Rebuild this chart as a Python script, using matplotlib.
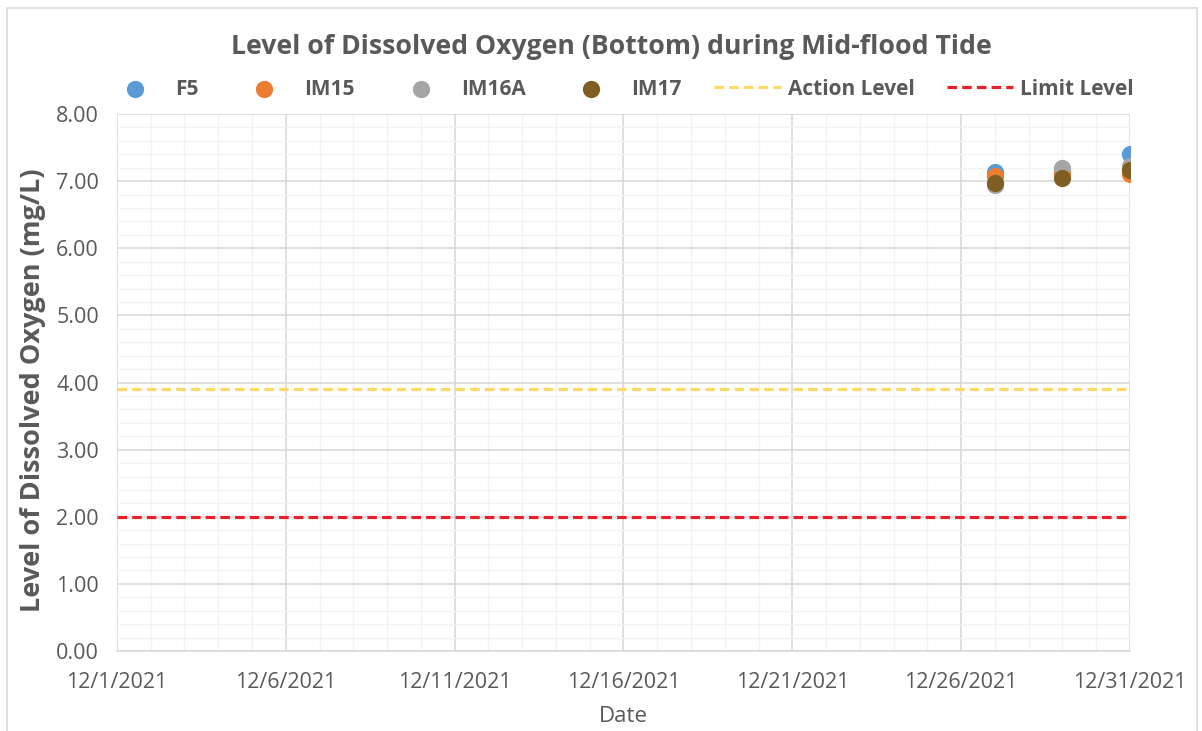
import datetime as dt
import matplotlib
matplotlib.use("Agg")
import matplotlib.pyplot as plt
import matplotlib.dates as mdates
from matplotlib.patches import Rectangle

# data
dates = [dt.date(2021, 12, 27), dt.date(2021, 12, 29), dt.date(2021, 12, 31)]
f5 = [7.13, 7.15, 7.41]
im15 = [7.07, 7.12, 7.11]
im16a = [6.94, 7.19, 7.23]
im17 = [6.98, 7.05, 7.17]
action_level = 3.9
limit_level = 2.0

x_start = dt.date(2021, 12, 1)
x_end = dt.date(2021, 12, 31)

grey = "#595959"
plt.rcParams["font.family"] = ["Open Sans", "DejaVu Sans"]

fig = plt.figure(figsize=(12.02, 7.31), dpi=100)
ax = fig.add_axes([0.0973, 0.1094, 0.8428, 0.7346])

ax.axhline(action_level, color="#FFD966", lw=2.3, ls=(0, (3, 1.6)), label="Action Level", zorder=2)
ax.axhline(limit_level, color="#E8202A", lw=2.3, ls=(0, (3, 1.6)), label="Limit Level", zorder=2)

ms = 130
ax.scatter(dates, f5, s=ms, color="#5B9BD5", label="F5", zorder=3)
ax.scatter(dates, im15, s=ms, color="#ED7D31", label="IM15", zorder=3)
ax.scatter(dates, im16a, s=ms, color="#A5A5A5", label="IM16A", zorder=3)
ax.scatter(dates, im17, s=ms, color="#7E5E22", label="IM17", zorder=3)

ax.set_xlim(x_start, x_end)
ax.set_ylim(0, 8)
ax.xaxis.set_major_locator(mdates.DayLocator(bymonthday=[1, 6, 11, 16, 21, 26, 31]))
ax.xaxis.set_minor_locator(mdates.DayLocator())
ax.xaxis.set_major_formatter(plt.FuncFormatter(
    lambda v, p: "{d.month}/{d.day}/{d.year}".format(d=mdates.num2date(v))))
ax.set_yticks([i * 1.0 for i in range(9)])
ax.set_yticks([i * 0.2 for i in range(41)], minor=True)
ax.yaxis.set_major_formatter(plt.FormatStrFormatter("%.2f"))

ax.grid(which="major", color="#D9D9D9", lw=1.2, zorder=0)
ax.grid(which="minor", color="#F2F2F2", lw=1.0, zorder=0)
ax.set_axisbelow(True)
for s in ["top", "right", "left"]:
    ax.spines[s].set_visible(False)
ax.spines["bottom"].set_color("#D9D9D9")
ax.spines["bottom"].set_linewidth(1.2)
ax.tick_params(which="both", length=0, colors=grey, labelsize=15.5)
ax.tick_params(axis="x", pad=15)
ax.tick_params(axis="y", pad=13)

ax.set_xlabel("Date", fontsize=16, color=grey, va="center")
ax.xaxis.set_label_coords(0.5, -0.121)
ax.set_ylabel("Level of Dissolved Oxygen (mg/L)", fontsize=19.5, color=grey,
              fontweight="bold", va="center")
ax.yaxis.set_label_coords(-0.083, 0.486)

fig.text(0.509, 0.936, "Level of Dissolved Oxygen (Bottom) during Mid-flood Tide",
         ha="center", va="center", fontsize=19.2, fontweight="bold", color=grey)

handles, labels = ax.get_legend_handles_labels()
order = [2, 3, 4, 5, 0, 1]
leg = fig.legend([handles[i] for i in order], [labels[i] for i in order],
                 loc="center", bbox_to_anchor=(0.514, 0.878), ncol=6, frameon=False,
                 prop={"weight": "bold", "size": 15}, labelcolor=grey,
                 handlelength=3.2, handletextpad=0.33, columnspacing=1.55,
                 scatterpoints=1, borderpad=0, borderaxespad=0)

fig.patches.append(Rectangle((0.006, -0.01), 0.99, 0.999, transform=fig.transFigure,
                             fill=False, edgecolor="#D9D9D9", lw=1.2))

fig.savefig("out.png", dpi=100)
